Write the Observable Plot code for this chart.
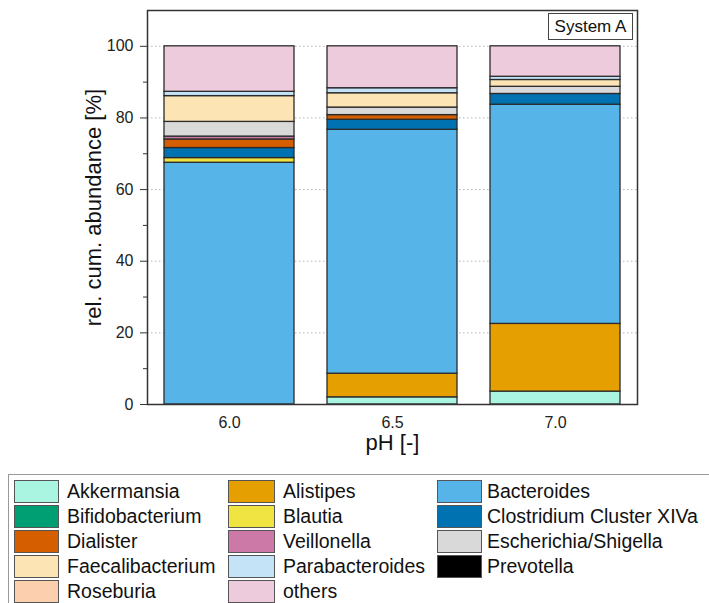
<!DOCTYPE html>
<html><head><meta charset="utf-8">
<script src="https://cdn.jsdelivr.net/npm/d3@7"></script>
<script src="https://cdn.jsdelivr.net/npm/@observablehq/plot@0.6"></script>
<style>
body{margin:0;background:#fff;font-family:"Liberation Sans",Arial,sans-serif;width:709px;height:603px;overflow:hidden;position:relative}
#chart{position:absolute;left:0;top:0}
#sys{position:absolute;left:548px;top:13px;width:83px;height:25px;border:1px solid #444;font-size:17px;line-height:25px;text-align:center;background:#fff;color:#111}
#legendBox{position:absolute;left:8px;top:474px;width:720px;height:140px;border:1px solid #999;border-right:none;border-bottom:none}
.sw{position:absolute;height:23px;box-sizing:border-box;border:1px solid #555}
.lt{position:absolute;font-size:19.5px;line-height:25px;color:#111;white-space:nowrap}
</style>
</head><body>
<div id="chart"></div>
<div id="sys">System A</div>
<div id="legendBox"></div>
<script>
const phLevels = ["6.0", "6.5", "7.0"];
const taxa = ["Akkermansia", "Alistipes", "Bacteroides", "Bifidobacterium", "Blautia",
  "Clostridium Cluster XIVa", "Dialister", "Veillonella", "Escherichia/Shigella",
  "Faecalibacterium", "Parabacteroides", "Prevotella", "Roseburia", "others"];
const taxaColors = ["#aaf5e1", "#e69f00", "#56b4e9", "#009e73", "#f0e442",
  "#0072b2", "#d55e00", "#cc79a7", "#d9d9d9",
  "#fde4b4", "#c5e3f6", "#000000", "#fccfae", "#edcbdd"];

const akkermansia      = [0, 2.0, 3.6];
const alistipes        = [0, 6.6, 18.9];
const bacteroides      = [67.5, 68.1, 61.2];
const bifidobacterium  = [0, 0, 0];
const blautia          = [1.3, 0, 0];
const clostridium      = [2.8, 2.8, 3.0];
const dialister        = [2.4, 1.3, 0];
const veillonella      = [0.8, 0, 0];
const escherichia      = [4.1, 2.1, 2.0];
const faecalibacterium = [7.2, 4.0, 1.9];
const parabacteroides  = [1.2, 1.4, 0.9];
const prevotella       = [0, 0, 0];
const roseburia        = [0, 0, 0];
const others           = [12.7, 11.7, 8.5];

const seriesValues = [akkermansia, alistipes, bacteroides, bifidobacterium, blautia,
  clostridium, dialister, veillonella, escherichia, faecalibacterium,
  parabacteroides, prevotella, roseburia, others];

const yTicks = [0, 20, 40, 60, 80, 100];
const yMinorTicks = [10, 30, 50, 70, 90];
const yLabel = "rel. cum. abundance [%]";
const xLabel = "pH [-]";

const rows = [];
taxa.forEach((t, i) => phLevels.forEach((p, j) => {
  const v = seriesValues[i][j];
  if (v > 0) rows.push({pH: p, taxon: t, value: v});
}));

const chart = Plot.plot({
  width: 709, height: 470,
  marginLeft: 147, marginRight: 72, marginTop: 10, marginBottom: 66,
  x: {type: "band", domain: phLevels, paddingInner: 0.2, paddingOuter: 0.1, label: null},
  y: {domain: [0, 110], label: null},
  color: {domain: taxa, range: taxaColors},
  style: {fontFamily: "'Liberation Sans', Arial, sans-serif", fontSize: "16px", color: "#222", background: "#fff"},
  marks: [
    Plot.ruleY(yTicks.slice(1), {stroke: "#b5b5b5", strokeDasharray: "1.5,2.5", strokeWidth: 1}),
    Plot.barY(rows, {x: "pH", y: "value", fill: "taxon", stroke: "#2b2b2b", strokeWidth: 1.3}),
    Plot.axisY(yTicks, {tickSize: 7, tickPadding: 7, fontSize: 16, label: null, stroke: "#333"}),
    Plot.axisY(yMinorTicks, {tickSize: 4, tickFormat: () => "", label: null, stroke: "#333"}),
    Plot.axisX({tickSize: 0, tickPadding: 12, fontSize: 16, label: null}),
    Plot.frame({stroke: "#333", strokeWidth: 1.5}),
    Plot.text([yLabel], {text: d => d, frameAnchor: "left", textAnchor: "middle", dx: -54, rotate: -90, fontSize: 22, fill: "#111"}),
    Plot.text([xLabel], {text: d => d, frameAnchor: "bottom", textAnchor: "middle", dy: 45, fontSize: 22, fill: "#111"})
  ]
});
document.getElementById("chart").appendChild(chart);

// legend (row-wise, 3 columns)
const swLeft = [14, 228, 437], swWidth = [45, 47, 45], txtLeft = [67, 283, 487];
taxa.forEach((t, i) => {
  const r = Math.floor(i / 3), c = i % 3;
  const cy = 491 + 25 * r;
  const sw = document.createElement("div");
  sw.className = "sw";
  sw.style.left = swLeft[c] + "px";
  sw.style.width = swWidth[c] + "px";
  sw.style.top = (cy - 11.5) + "px";
  sw.style.background = taxaColors[i];
  document.body.appendChild(sw);
  const tx = document.createElement("div");
  tx.className = "lt";
  tx.style.left = txtLeft[c] + "px";
  tx.style.top = (cy - 12.5) + "px";
  tx.textContent = t;
  document.body.appendChild(tx);
});
</script>
</body></html>
